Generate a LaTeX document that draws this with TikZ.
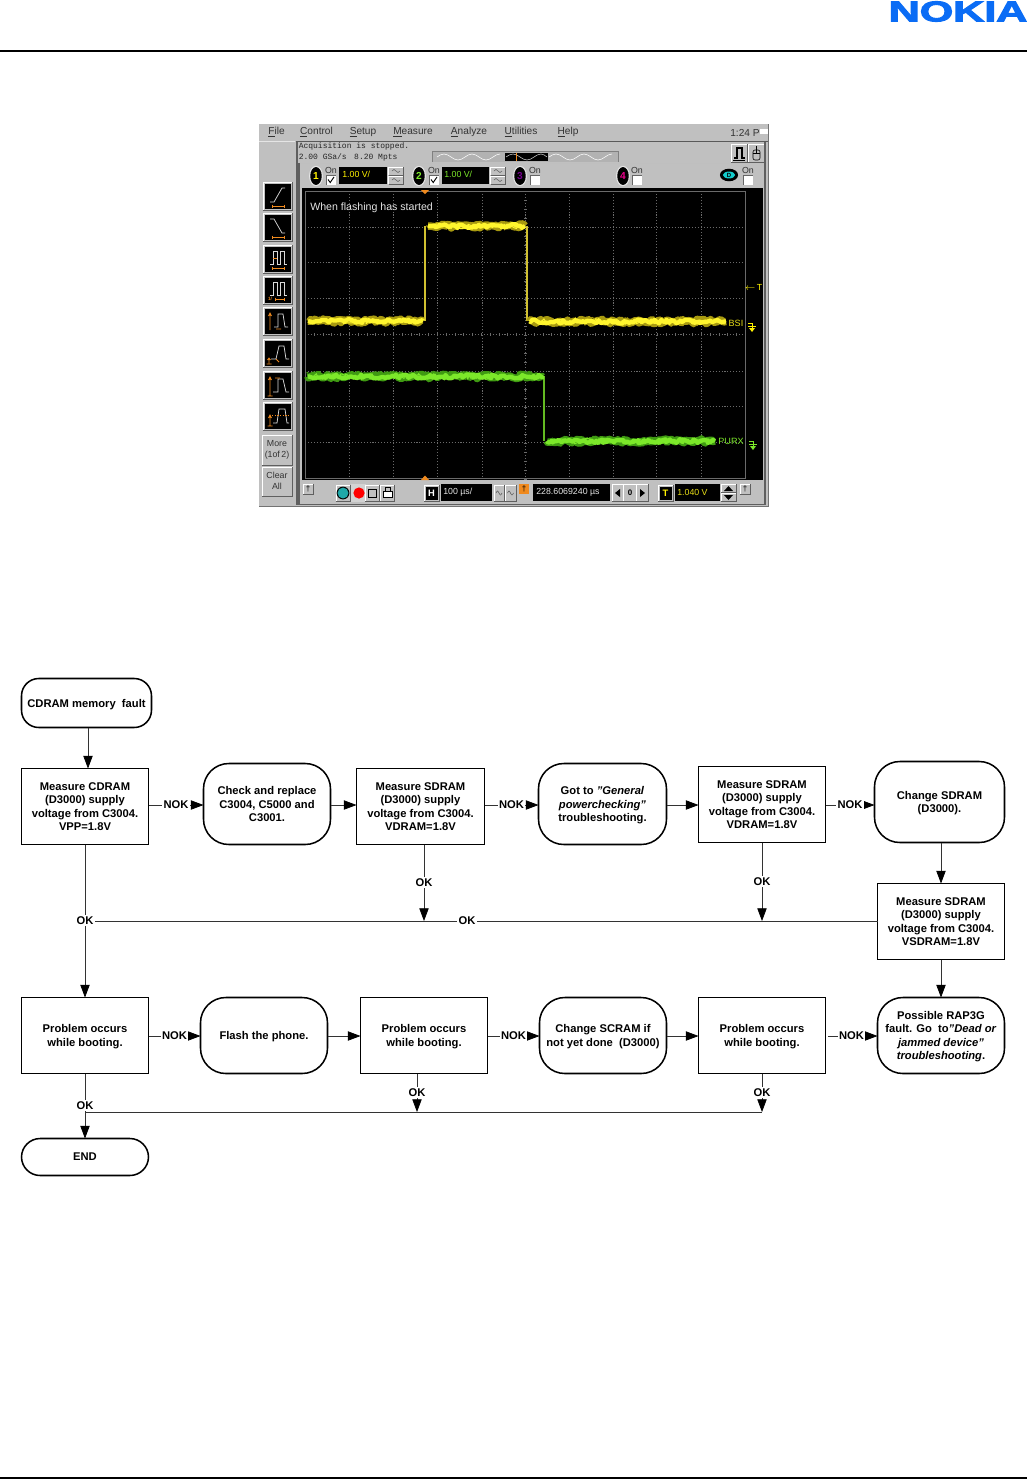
\documentclass[tikz,border=0pt]{standalone}
\usepackage{fontspec}
\setmainfont{Liberation Sans}
\newfontfamily\scopemono{Liberation Mono}
\newfontfamily\logofont[FakeBold=3]{Liberation Sans Bold}
\usetikzlibrary{arrows.meta,decorations.pathmorphing,calc}
\definecolor{scrgray}{HTML}{C0C0C0}
\definecolor{scrdark}{HTML}{5F5F5F}
\definecolor{nokblue}{HTML}{0A6CF5}
\definecolor{scrorange}{HTML}{F08A1E}
\definecolor{yelbright}{HTML}{FFF52E}
\definecolor{yeldark}{HTML}{A89A10}
\definecolor{yeledge}{HTML}{D0C030}
\definecolor{grnbright}{HTML}{7CE82A}
\definecolor{grndark}{HTML}{3F9A12}
\definecolor{griddot}{HTML}{6A6A6A}
\definecolor{tealbtn}{HTML}{1FA8A8}
\newcommand\bevel[4]{%
  \fill[scrgray] (#1,#2) rectangle (#3,#4);
  \draw[white,line width=.7pt] (#1,#4)--(#1,#2)--(#3,#2);
  \draw[scrdark,line width=.7pt] (#3,#2)--(#3,#4)--(#1,#4);}
\newcommand\icon[1]{\draw[white!85!black,line width=.55pt] #1;}
\newcommand\orng[1]{\draw[scrorange,line width=.6pt] #1;}
\tikzset{
  flowbox/.style={draw=black,line width=1.15pt,fill=white,align=center,
    font=\fontsize{8.4}{10.2}\selectfont\bfseries,inner sep=0pt,outer sep=0pt,
    text depth=0pt,
    minimum width=127*0.75pt,minimum height=76*0.75pt},
  roundbox/.style={flowbox,rounded corners=19pt},
  conn/.style={line width=.55pt,draw=black!80},
  arrowconn/.style={conn,-{Triangle[length=9.5pt,width=7pt,color=black,fill=black]}},
  lbl/.style={fill=white,font=\fontsize{8.4}{9}\selectfont\bfseries,inner sep=1pt,text=black},
  menutxt/.style={font=\fontsize{7.6}{9}\selectfont,text=black!80,inner sep=0pt},
  smalltxt/.style={font=\fontsize{6.6}{7.8}\selectfont,text=black!80,inner sep=0pt,align=center},
  montxt/.style={font=\scopemono\fontsize{6}{7}\selectfont,text=black!85,inner sep=0pt,anchor=west},
  readout/.style={font=\fontsize{6.6}{8}\selectfont,inner sep=0pt,anchor=west},
  griddots/.style={griddot,line width=.45pt,dash pattern=on .8pt off 1.4pt},
  noisy/.style={decorate,decoration={random steps,segment length=1.6pt,amplitude=#1},line join=round},
  oval/.style={font=\fontsize{7.6}{8}\selectfont\bfseries,inner sep=0pt},
}
\newcommand\chanoval[1]{%
  \fill[white!90!black] (#1,176) ellipse (5.2pt and 7.6pt);
  \fill[black] (#1,176) ellipse (4.3pt and 6.7pt);}
\begin{document}
\begin{tikzpicture}[x=0.75pt,y=-0.75pt]
\useasboundingbox (0,0) rectangle (1027,1479);
\fill[white] (0,0) rectangle (1027,1479);
% header and footer
\node[text=nokblue,font=\logofont\fontsize{21.5}{22}\selectfont,inner sep=0pt,xscale=1.5] (logo) at (958,11.5) {NOKIA};
\draw[black,line width=1.4pt] (0,51) -- (1027,51);
\draw[black,line width=1.2pt] (0,1478) -- (1027,1478);
% ---------- oscilloscope screenshot ----------
\fill[scrgray] (259,124) rectangle (768,506);
\draw[black!55,line width=.6pt] (768,124)--(768,506)--(259,506);
\fill[scrdark] (295.5,141) rectangle (298.3,505);
\fill[scrdark] (298.3,163) rectangle (300,505);
\fill[black!65] (295.5,141) rectangle (768,142);
\fill[scrdark] (764,142) rectangle (766,505);
\fill[scrdark] (295.5,503.5) rectangle (766,505);
\fill[white!90!black] (259,141) rectangle (295,142);
\fill[black!25] (300,163) rectangle (764,164);
% menu
\node[menutxt] (m1) at (276.5,132.5) {\underline{F}ile};
\node[menutxt] (m2) at (316.5,132.5) {\underline{C}ontrol};
\node[menutxt] (m3) at (363,132.5) {\underline{S}etup};
\node[menutxt] (m4) at (413,132.5) {\underline{M}easure};
\node[menutxt] (m5) at (469,132.5) {\underline{A}nalyze};
\node[menutxt] (m6) at (521,132.5) {\underline{U}tilities};
\node[menutxt] (m7) at (568,132.5) {\underline{H}elp};
\node[menutxt] (m8) at (745,132.5) {1:24 P};
\fill[white] (760,129) rectangle (768,134);
% status
\node[montxt] (st1) at (298.5,146) {Acquisition is stopped.};
\node[montxt] (st2) at (298.5,157) {2.00 GSa/s \,\,8.20 Mpts};
% overview
\fill[black!50] (432,151) rectangle (619,162);
\fill[black!30] (433,152) rectangle (618,162);
\fill[black] (505,153) rectangle (548,161);
\draw[white,line width=.4pt] (437,157) sin (444,154) cos (451,157) sin (458,160) cos (465,157) sin (472,154) cos (479,157) sin (486,160) cos (493,157) sin (500,154);
\draw[white!80!black,line width=.4pt] (506,157) sin (513,154) cos (520,157) sin (527,160) cos (534,157) sin (541,154) cos (547,157);
\draw[white,line width=.4pt] (549,157) sin (556,154) cos (563,157) sin (570,160) cos (577,157) sin (584,154) cos (591,157) sin (598,160) cos (605,157) sin (612,154);
\fill[scrorange] (515.5,153) rectangle (516.5,161);
% top-right buttons
\bevel{731}{144}{747}{162}
\draw[black,line width=.9pt] (734,158)--(737,158)--(737,148)--(742,148)--(742,158)--(745,158);
\draw[black,line width=.6pt] (733,160)--(745,160);
\bevel{748}{144}{764}{162}
\draw[black,line width=.45pt,rounded corners=1.5pt] (753,150) rectangle (760,160);
\draw[black,line width=.4pt] (753,153)--(760,153) (756.5,150)--(756.5,153) (756.5,146)--(756.5,150);
% channel row
\chanoval{316}
\node[oval,text=yellow] (ch1) at (316,176) {1};
\chanoval{419}
\node[oval,text=grnbright] (ch2) at (419,176) {2};
\chanoval{520}
\node[oval,text=violet!90!blue] (ch3) at (520,176) {3};
\chanoval{623}
\node[oval,text=magenta] (ch4) at (623,176) {4};
\fill[black] (729,175) ellipse (6.8pt and 4.7pt);
\fill[tealbtn!60!cyan] (729,175) ellipse (4.6pt and 2.6pt);
\node[font=\fontsize{4.5}{5}\selectfont\bfseries,inner sep=0pt,text=black] (chd) at (729,175) {D};
\newcommand\onbox[3]{%
  \node[smalltxt] (#3) at (#1,170.5) {On};
  \fill[white] (#1-5,175) rectangle (#1+5,185);
  \draw[black!60,line width=.4pt] (#1-5,185)--(#1-5,175)--(#1+5,175);
  \ifnum#2=1 \draw[black,line width=.7pt] (#1-3,179.5)--(#1-.8,182.5)--(#1+3,177); \fi
}
\onbox{331}{1}{on1}
\onbox{434}{1}{on2}
\onbox{535}{0}{on3}
\onbox{637}{0}{on4}
\onbox{748}{0}{on5}
\fill[black] (339,167) rectangle (387,184);
\node[readout,text=yellow] (v1) at (342,174) {1.00 V/};
\fill[black] (442,167) rectangle (489,184);
\node[readout,text=grnbright] (v2) at (444,174) {1.00 V/};
\bevel{388.5}{167}{403.5}{175}
\bevel{388.5}{176}{403.5}{184}
\bevel{490.5}{167}{505.5}{175}
\bevel{490.5}{176}{505.5}{184}
\foreach \xx in {396,498}{
  \draw[black!70,line width=.35pt] (\xx-4,171) sin (\xx-2,169.5) cos (\xx,171) sin (\xx+2,172.5) cos (\xx+4,171);
  \draw[black!70,line width=.35pt] (\xx-4,180) sin (\xx-2,178.5) cos (\xx,180) sin (\xx+2,181.5) cos (\xx+4,180);
}
% left softkeys
\foreach \yy in {182,213,245,276,307,339,371,402}{
  \bevel{263}{\yy}{292}{\yy+28.5}
  \fill[black] (265,\yy+2) rectangle (290.5,\yy+26.5);
}
\begin{scope}[shift={(265,184)}]
  \icon{(5,18)--(9,18)--(17,4)--(20,4)}
  \orng{(7,22)--(19,22) (7,20.5)--(7,23.5) (19,20.5)--(19,23.5)}
\end{scope}
\begin{scope}[shift={(265,215)}]
  \icon{(5,4)--(9,4)--(17,18)--(20,18)}
  \orng{(7,22)--(19,22) (7,20.5)--(7,23.5) (19,20.5)--(19,23.5)}
\end{scope}
\begin{scope}[shift={(265,247)}]
  \icon{(5,17)--(8,17)--(8,4)--(12,4)--(12,17)--(15,17)--(15,4)--(19,4)--(19,17)--(22,17)}
  \orng{(7,21)--(19,21) (7,19.5)--(7,22.5) (19,19.5)--(19,22.5) (8,11)--(12,11)}
\end{scope}
\begin{scope}[shift={(265,278)}]
  \icon{(5,17)--(8,17)--(8,4)--(12,4)--(12,17)--(15,17)--(15,4)--(19,4)--(19,17)--(22,17)}
  \orng{(10,21)--(19,21) (10,19.5)--(10,22.5) (19,19.5)--(19,22.5)}
  \node[font=\fontsize{3.5}{4}\selectfont\bfseries,text=scrorange,inner sep=0pt] (k1) at (5,21) {1/};
\end{scope}
\begin{scope}[shift={(265,309)}]
  \icon{(9,18)--(13,18)--(13,5)--(18,5)--(20,18)--(23,18)}
  \orng{(5,4)--(5,21) (3.5,7)--(5,4)--(6.5,7) (11,20)--(16,20)}
\end{scope}
\begin{scope}[shift={(265,341)}]
  \icon{(6,18)--(11,18)--(14,5)--(19,5)--(21,18)--(24,18)}
  \orng{(4,17)--(4,22) (2.5,19)--(4,17)--(5.5,19) (1.5,23)--(6.5,23) (11,18)--(14,21)}
\end{scope}
\begin{scope}[shift={(265,373)}]
  \icon{(8,19)--(13,19)--(13,6)--(18,6)--(21,19)--(24,19)}
  \orng{(5,4)--(5,23) (3.5,7)--(5,4)--(6.5,7) (2.5,23)--(7.5,23) (10,5)--(15,5)}
\end{scope}
\begin{scope}[shift={(265,404)}]
  \icon{(8,19)--(12,19)--(14,5)--(20,5)--(22,19)--(24,19)}
  \orng{(5,11)--(5,22) (3.5,14)--(5,11)--(6.5,14) (2.5,22)--(7.5,22)}
  \draw[scrorange,line width=.5pt,dash pattern=on 1pt off 1pt] (7,11)--(25,11);
\end{scope}
\bevel{262}{435}{292}{465}
\bevel{262}{467}{292}{496}
\node[smalltxt] (kmore) at (277,450) {More\\(1of\,2)};
\node[smalltxt] (kclear) at (277,481) {Clear\\All};
% display
\fill[black] (302,188) rectangle (763,480);
\draw[griddot,line width=.6pt] (305,191) rectangle (745,478);
\foreach \xx in {349,393,437,482,569,613,656,701}{\draw[griddots] (\xx,191)--(\xx,478);}
\foreach \yy in {227,262,298,371,406,442}{\draw[griddots] (305,\yy)--(745,\yy);}
\draw[griddots] (525,191)--(525,478);
\draw[griddots] (305,334.5)--(745,334.5);
\foreach \ii in {0,...,32}{\fill[griddot] (525-1.5,191+\ii*9)  rectangle (525+1.5,191.6+\ii*9);}
\foreach \ii in {0,...,50}{\fill[griddot] (305+\ii*8.8,333) rectangle (305.6+\ii*8.8,336);}
\fill[scrorange] (421,190)--(429,190)--(425,194)--cycle;
\fill[scrorange] (421,480)--(429,480)--(425,475.5)--cycle;
\node[font=\fontsize{7.95}{10}\selectfont,text=white!90!black,inner sep=0pt,anchor=west] (wfs) at (310,207.5) {When flashing has started};
% traces
\pgfmathsetseed{7}
\draw[yeledge,line width=1pt] (425,321)--(425,226);
\draw[yeledge,line width=1pt] (527,226)--(527,321);
\draw[grnbright!80!black,line width=.9pt] (544,376)--(544,441);
\foreach \col/\amp/\wid in {yeldark/3.2pt/.6pt,yeldark/1.6pt/5.6pt,yelbright/2.2pt/.7pt,yelbright/1.5pt/3.2pt}{
  \draw[\col,line width=\wid,noisy=\amp] (308,321)--(423,321);
  \draw[\col,line width=\wid,noisy=\amp] (428,226)--(525,226);
  \draw[\col,line width=\wid,noisy=\amp] (530,321.5)--(726,321.5);
}
\foreach \col/\amp/\wid in {grndark/3.2pt/.6pt,grndark/1.6pt/5.6pt,grnbright/2.2pt/.7pt,grnbright/1.5pt/3.2pt}{
  \draw[\col,line width=\wid,noisy=\amp] (308,376.5)--(542,376.5);
  \draw[\col,line width=\wid,noisy=\amp] (547,441)--(715,441);
}
\node[font=\fontsize{6.6}{8}\selectfont,text=yellow,inner sep=0pt] (tm) at (753.5,287) {$\leftarrow$\,T};
\node[font=\fontsize{6.8}{8}\selectfont,text=yellow!90!black,inner sep=0pt] (bsi) at (736,323.5) {BSI};
\node[font=\fontsize{6.8}{8}\selectfont,text=grnbright,inner sep=0pt] (purx) at (731,441.5) {PURX};
\draw[yellow,line width=.6pt] (748,323)--(752,323)--(752,331) (748,326)--(756,326);
\fill[yellow] (749,328)--(755,328)--(752,332)--cycle;
\draw[grnbright,line width=.6pt] (749,441)--(753,441)--(753,449) (749,444)--(757,444);
\fill[grnbright] (750,446)--(756,446)--(753,450)--cycle;
% bottom row
\bevel{303}{484}{313}{494}
\node[font=\fontsize{6}{7}\selectfont,inner sep=0pt,text=black] (dg1) at (308,489) {†};
\bevel{336}{485}{350}{501}
\fill[black] (343,493) circle (4.8pt);
\fill[tealbtn] (343,493) circle (4.1pt);
\fill[scrgray!70!white] (351,484) rectangle (366,502);
\fill[red] (359,493) circle (4.2pt);
\bevel{365}{485}{379}{501}
\draw[black,line width=.5pt] (368,489) rectangle (376,497);
\bevel{380}{485}{394}{501}
\draw[black,fill=white,line width=.5pt] (383,491) rectangle (392,497);
\draw[black,line width=.5pt] (385,491)--(385,487)--(390,487)--(390,491);
\bevel{424}{485}{439}{501}
\fill[black] (425.5,486.5) rectangle (437.5,500);
\node[font=\fontsize{7}{8}\selectfont\bfseries,text=white,inner sep=0pt] (hh) at (431.5,493.5) {H};
\fill[black] (441,484) rectangle (492,501);
\node[readout,text=white!90!black] (tdiv) at (443,492) {100 µs/};
\bevel{494}{485}{504}{501}
\bevel{505}{485}{516}{501}
\foreach \xx in {499,510.5}{\draw[black!70,line width=.35pt] (\xx-3,493) sin (\xx-1.5,491) cos (\xx,493) sin (\xx+1.5,495) cos (\xx+3,493);}
\fill[scrorange] (519,484) rectangle (529,494);
\node[font=\fontsize{6}{7}\selectfont,inner sep=0pt,text=black] (dg2) at (524,489) {†};
\fill[black] (533,484) rectangle (610,501);
\node[readout,text=white!90!black] (tpos) at (536,492) {228.6069240 µs};
\bevel{612}{484}{623}{501}
\bevel{623}{484}{636}{501}
\bevel{636}{484}{648}{501}
\fill[black] (620,489)--(620,497)--(615,493)--cycle;
\fill[black] (640,489)--(640,497)--(645,493)--cycle;
\node[font=\fontsize{6}{7}\selectfont\bfseries,inner sep=0pt,text=black] (zz) at (630,493) {0};
\bevel{658}{485}{673}{501}
\fill[black] (659.5,486.5) rectangle (671.5,500);
\node[font=\fontsize{7}{8}\selectfont\bfseries,text=yellow,inner sep=0pt] (tt) at (665.5,493.5) {T};
\fill[black] (675,484) rectangle (720,501);
\node[readout,text=yellow!90!black] (tlev) at (677,492) {1.040 V};
\bevel{721}{484}{736}{492.5}
\bevel{721}{493}{736}{501}
\fill[black] (724,491)--(733,491)--(728.5,486)--cycle;
\fill[black] (724,495)--(733,495)--(728.5,500)--cycle;
\bevel{740}{484}{750}{494}
\node[font=\fontsize{6}{7}\selectfont,inner sep=0pt,text=black] (dg3) at (745,489) {†};
% ---------- flowchart ----------
\coordinate (row1) at (0,805);
\coordinate (row2) at (0,1036);
\coordinate (row3) at (0,921);
\coordinate (row4) at (0,1112);
\coordinate (colA) at (88,0);
\coordinate (colB) at (424,0);
\coordinate (colC) at (417,0);
\coordinate (colD) at (941,0);
\node[roundbox,minimum width=130*0.75pt,minimum height=49*0.75pt,rounded corners=13pt] (start) at (86.5,703) {CDRAM memory\ \ fault};
\node[flowbox] (a1) at (85,806.5) {Measure CDRAM\\(D3000) supply\\voltage from C3004.\\VPP=1.8V};
\node[roundbox,minimum height=81*0.75pt] (a2) at (267,804) {Check and replace\\C3004, C5000 and\\C3001.};
\node[flowbox,minimum width=128*0.75pt] (a3) at (420.5,806.5) {Measure SDRAM\\(D3000) supply\\voltage from C3004.\\VDRAM=1.8V};
\node[roundbox,minimum width=128*0.75pt,minimum height=81*0.75pt] (a4) at (602.5,804) {Got to \textit{"General}\\\textit{powerchecking"}\\troubleshooting.};
\node[flowbox] (a5) at (762,804.5) {Measure SDRAM\\(D3000) supply\\voltage from C3004.\\VDRAM=1.8V};
\node[roundbox,minimum width=130*0.75pt,minimum height=81*0.75pt] (a6) at (939.5,802) {Change SDRAM\\(D3000).};
\node[flowbox] (a7) at (941,921.5) {Measure SDRAM\\(D3000) supply\\voltage from C3004.\\VSDRAM=1.8V};
\node[flowbox] (b1) at (85,1035.5) {Problem occurs\\while booting.};
\node[roundbox] (b2) at (264,1035.5) {Flash the phone.};
\node[flowbox] (b3) at (424,1035.5) {Problem occurs\\while booting.};
\node[roundbox] (b4) at (603,1035.5) {Change SCRAM if\\not yet done\ \ (D3000)};
\node[flowbox] (b5) at (762,1035.5) {Problem occurs\\while booting.};
\node[roundbox] (b6) at (941,1035.5) {Possible RAP3G\\fault. Go\ \ to\textit{"Dead or}\\\textit{jammed device"}\\\textit{troubleshooting}.};
\node[roundbox,minimum height=37*0.75pt,rounded corners=14pt] (endn) at (85,1157) {END};
% connectors
\draw[arrowconn] (colA|-start.south) -- (colA|-a1.north);
\draw[arrowconn] (a1.east|-row1) -- node[lbl] (n1) {NOK} (a2.west|-row1);
\draw[arrowconn] (a2.east|-row1) -- (a3.west|-row1);
\draw[arrowconn] (a3.east|-row1) -- node[lbl] (n2) {NOK} (a4.west|-row1);
\draw[arrowconn] (a4.east|-row1) -- (a5.west|-row1);
\draw[arrowconn] (a5.east|-row1) -- node[lbl] (n3) {NOK} (a6.west|-row1);
\draw[arrowconn] (colD|-a6.south) -- (a7.north);
\draw[arrowconn] (a7.south) -- (b6.north);
\draw[conn] (a7.west|-row3) -- node[lbl,pos=.518] (k3) {OK} (a1.south|-row3);
\draw[arrowconn] (a1.south) -- node[lbl,pos=.495] (k0) {OK} (b1.north);
\draw[arrowconn] (colB|-a3.south) -- node[lbl] (k1a) {OK} (colB|-row3);
\draw[arrowconn] (a5.south) -- node[lbl] (k2a) {OK} (a5.south|-row3);
\draw[arrowconn] (b1.east|-row2) -- node[lbl] (n4) {NOK} (b2.west|-row2);
\draw[arrowconn] (b2.east|-row2) -- (b3.west|-row2);
\draw[arrowconn] (b3.east|-row2) -- node[lbl] (n5) {NOK} (b4.west|-row2);
\draw[arrowconn] (b4.east|-row2) -- (b5.west|-row2);
\draw[arrowconn,shorten <=2.2pt] (b5.east|-row2) -- node[lbl] (n6) {NOK} (b6.west|-row2);
\draw[conn] (b1.south|-row4) -- (b5.south|-row4);
\draw[arrowconn] (b1.south) -- node[lbl,pos=.49] (k4) {OK} (endn.north);
\draw[arrowconn] (colC|-b3.south) -- node[lbl] (k5) {OK} (colC|-row4);
\draw[arrowconn] (b5.south) -- node[lbl] (k6) {OK} (b5.south|-row4);
\end{tikzpicture}
\end{document}
